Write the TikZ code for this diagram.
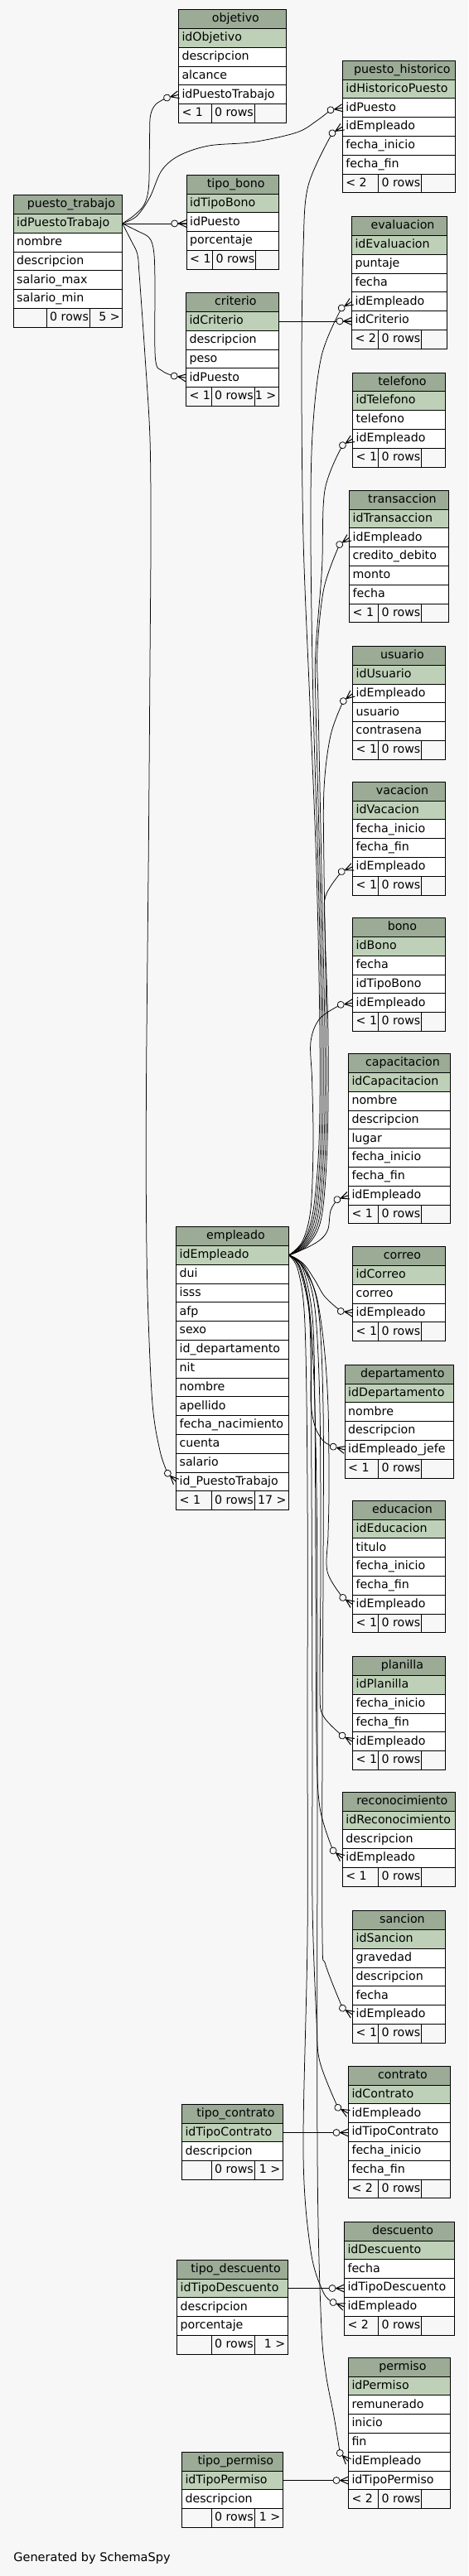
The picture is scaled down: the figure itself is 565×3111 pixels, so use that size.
\documentclass[tikz,border=0pt]{standalone}
\usepackage{fontspec}
\setmainfont{DejaVu Sans}
\usetikzlibrary{calc}
\definecolor{hdrc}{HTML}{9BAB96}
\definecolor{pkc}{HTML}{BED1B8}
\definecolor{bgc}{HTML}{F7F7F7}
\newcommand\tabfont{\fontsize{14.2}{16}\selectfont}
\tikzset{
  sscell/.style={rectangle, draw=black, line width=0.9pt, inner xsep=4pt, inner ysep=0pt, outer sep=0pt, minimum height=22.8pt, text height=10.5pt, text depth=3pt, align=left, anchor=north west, font=\tabfont},
  hdrcell/.style={sscell, fill=hdrc},
  pkcell/.style={sscell, fill=pkc},
  colcell/.style={sscell, fill=white},
  footcell/.style={sscell, fill=bgc},
  celltxt/.style={inner sep=0pt, outer sep=0pt, text height=10.5pt, text depth=3pt, font=\tabfont},
  tline/.style={draw=black, line width=0.9pt},
  fkline/.style={draw=black, line width=0.75pt},
}
\newcommand\dbtable[7]{%
  \pgfmathsetmacro\tw{#3-#2-8}%
  \xdef\curid{#1}\xdef\curxl{#2}\xdef\curxr{#3}%
  \node[hdrcell, text width=\tw pt] (#1) at (#2,#4) {};
  \node[celltxt, xshift=4pt] (#1-title) at (#1.center) {#5};
  \node[pkcell, text width=\tw pt] (#1-#6) at (#1.south west) {#6};
  \xdef\prevrow{#1-#6}%
  \foreach \c in {#7} {%
    \node[colcell, text width=\tw pt] (#1-\c) at (\prevrow.south west) {\c};
    \xdef\prevrow{#1-\c}%
  }%
}
\newcommand\dbfoot[3]{%
  \pgfmathsetmacro\tw{\curxr-\curxl-8}%
  \pgfmathsetmacro\dtwo{#1+52}%
  \pgfmathsetmacro\mx{#1+4}%
  \node[footcell, text width=\tw pt] (\curid-foot) at (\prevrow.south west) {};
  \draw[tline] (#1,0 |- \curid-foot.north) -- (#1,0 |- \curid-foot.south)
               (\dtwo,0 |- \curid-foot.north) -- (\dtwo,0 |- \curid-foot.south);
  \node[celltxt, anchor=west] (\curid-fl) at ([xshift=4pt]\curid-foot.west) {#2};
  \node[celltxt, anchor=west] (\curid-fm) at (\mx,0 |- \curid-foot.west) {0 rows};
  \node[celltxt, anchor=east] (\curid-fr) at ([xshift=-3pt]\curid-foot.east) {#3};
}
\newcommand\fkmark[2]{%
  \begin{scope}[shift={(#1)}, rotate={0-(#2)}]
    \draw[fkline, fill=bgc] (-14.5,0) circle[radius=4pt];
    \draw[fkline, line width=1pt] (-10,0) -- (0,4.5) (-10,0) -- (0,-4.5) (-10,0) -- (0,0);
  \end{scope}}
\newcommand\fkedge[5]{%
  \coordinate (#1e) at ($(#4)+({#5+180}:14.5)$);
  \draw[fkline] plot[smooth, tension=0.55] coordinates {(#2) #3 (#1e)};
  \fkmark{#4}{#5}}
\newcommand\fkstraight[3]{%
  \coordinate (#1e) at (#2 -| #3);
  \draw[fkline] (#2) -- (#1e);
  \fkmark{#1e}{0}}
\begin{document}
\catcode`\_=12
\begin{tikzpicture}[x=1pt, y=-1pt]
\fill[bgc] (0,0) rectangle (565,3111);
\useasboundingbox (0,0) rectangle (565,3111);

\dbtable{obj}{215.5}{345.2}{11.7}{objetivo}{idObjetivo}{descripcion,alcance,idPuestoTrabajo}
\dbfoot{255.1}{< 1}{}
\dbtable{ph}{413.3}{549.5}{73.3}{puesto_historico}{idHistoricoPuesto}{idPuesto,idEmpleado,fecha_inicio,fecha_fin}
\dbfoot{456.6}{< 2}{}
\dbtable{tb}{225.2}{336.2}{211.3}{tipo_bono}{idTipoBono}{idPuesto,porcentaje}
\dbfoot{256.6}{< 1}{}
\dbtable{pt}{16.2}{147.7}{235.7}{puesto_trabajo}{idPuestoTrabajo}{nombre,descripcion,salario_max,salario_min}
\dbfoot{56.2}{}{5 >}
\dbtable{cri}{224.5}{336.2}{353.7}{criterio}{idCriterio}{descripcion,peso,idPuesto}
\dbfoot{255.1}{< 1}{1 >}
\dbtable{eva}{424.5}{539.5}{261.7}{evaluacion}{idEvaluacion}{puntaje,fecha,idEmpleado,idCriterio}
\dbfoot{456.6}{< 2}{}
\dbtable{tel}{425.6}{537.3}{450}{telefono}{idTelefono}{telefono,idEmpleado}
\dbfoot{456.6}{< 1}{}
\dbtable{tra}{421.6}{541.3}{592.3}{transaccion}{idTransaccion}{idEmpleado,credito_debito,monto,fecha}
\dbfoot{456.6}{< 1}{}
\dbtable{usu}{425.6}{537.3}{780.5}{usuario}{idUsuario}{idEmpleado,usuario,contrasena}
\dbfoot{456.6}{< 1}{}
\dbtable{vac}{425.6}{537.3}{944.3}{vacacion}{idVacacion}{fecha_inicio,fecha_fin,idEmpleado}
\dbfoot{456.6}{< 1}{}
\dbtable{bon}{425.6}{537.3}{1108.7}{bono}{idBono}{fecha,idTipoBono,idEmpleado}
\dbfoot{456.6}{< 1}{}
\dbtable{cap}{420.5}{543.4}{1272.7}{capacitacion}{idCapacitacion}{nombre,descripcion,lugar,fecha_inicio,fecha_fin,idEmpleado}
\dbfoot{456.6}{< 1}{}
\dbtable{emp}{212.6}{348.5}{1481.7}{empleado}{idEmpleado}{dui,isss,afp,sexo,id_departamento,nit,nombre,apellido,fecha_nacimiento,cuenta,salario,id_PuestoTrabajo}
\dbfoot{255.1}{< 1}{17 >}
\dbtable{cor}{425.6}{537.3}{1505.7}{correo}{idCorreo}{correo,idEmpleado}
\dbfoot{456.6}{< 1}{}
\dbtable{dep}{416.2}{547.4}{1648.3}{departamento}{idDepartamento}{nombre,descripcion,idEmpleado_jefe}
\dbfoot{456.6}{< 1}{}
\dbtable{edu}{425.6}{537.3}{1812.3}{educacion}{idEducacion}{titulo,fecha_inicio,fecha_fin,idEmpleado}
\dbfoot{456.6}{< 1}{}
\dbtable{pla}{425.6}{537.3}{2000.7}{planilla}{idPlanilla}{fecha_inicio,fecha_fin,idEmpleado}
\dbfoot{456.6}{< 1}{}
\dbtable{rec}{413.3}{549.5}{2164.3}{reconocimiento}{idReconocimiento}{descripcion,idEmpleado}
\dbfoot{456.6}{< 1}{}
\dbtable{san}{425.6}{537.3}{2307.7}{sancion}{idSancion}{gravedad,descripcion,fecha,idEmpleado}
\dbfoot{456.6}{< 1}{}
\dbtable{con}{420.5}{543.4}{2495.3}{contrato}{idContrato}{idEmpleado,idTipoContrato,fecha_inicio,fecha_fin}
\dbfoot{456.6}{< 2}{}
\dbtable{tco}{219.5}{341.3}{2541.3}{tipo_contrato}{idTipoContrato}{descripcion}
\dbfoot{255.1}{}{1 >}
\dbtable{des}{415.5}{548.5}{2683.3}{descuento}{idDescuento}{fecha,idTipoDescuento,idEmpleado}
\dbfoot{456.6}{< 2}{}
\dbtable{tde}{213.7}{347.4}{2729.3}{tipo_descuento}{idTipoDescuento}{descripcion,porcentaje}
\dbfoot{255.1}{}{1 >}
\dbtable{per}{420.5}{543.4}{2847.3}{permiso}{idPermiso}{remunerado,inicio,fin,idEmpleado,idTipoPermiso}
\dbfoot{456.6}{< 2}{}
\dbtable{tpe}{219.5}{341.3}{2961.3}{tipo_permiso}{idTipoPermiso}{descripcion}
\dbfoot{255.1}{}{1 >}

% puesto_trabajo relations
\fkedge{ea}{pt-idPuestoTrabajo.east}{(162,260) (174,247) (179.5,225) (180.5,170) (181.5,140) (188,126)}{obj-idPuestoTrabajo.west}{-15}
\fkedge{eb}{pt-idPuestoTrabajo.east}{(165,261) (181,238) (195,206) (216,188) (252,176) (306,171.5) (358,160) (382,146)}{ph-idPuesto.west}{-10}
\fkstraight{ec}{pt-idPuestoTrabajo.east}{tb-idPuesto.west}
\fkedge{ed}{pt-idPuestoTrabajo.east}{(166,279) (180,287) (185.5,303) (187,340) (187.4,432) (196,448)}{cri-idPuesto.west}{9}
\fkedge{ee}{pt-idPuestoTrabajo.east}{(158,290) (165.8,306.7) (168,330) (175,430) (181,530) (182,650) (181,800) (179.5,1000) (178,1150) (176.6,1300) (176.3,1430) (178,1560) (183.8,1693) (193,1752)}{emp-id_PuestoTrabajo.west}{45}
\fkstraight{ef}{cri-idCriterio.east}{eva-idCriterio.west}

% empleado relations (upward)
\fkedge{ua}{emp-idEmpleado.east}{(366,1500) (378,1462) (385,1380) (386,1250) (382,1050) (374,850) (366,650) (364,450) (366,300) (372,224)}{ph-idEmpleado.west}{-32}
\fkedge{ub}{emp-idEmpleado.east}{(367,1500) (380,1463) (387,1380) (388,1250) (384,1050) (378,850) (375,650) (377,525) (388,430)}{eva-idEmpleado.west}{-32}
\fkedge{uc}{emp-idEmpleado.east}{(368,1501) (382,1464) (389,1380) (390,1250) (386,1050) (381,850) (381,785) (388.5,687) (392,592)}{tel-idEmpleado.west}{-33}
\fkedge{ud}{emp-idEmpleado.east}{(369,1502) (384,1466) (391,1380) (392,1250) (388,1050) (384,850) (383,785) (391,710)}{tra-idEmpleado.west}{-35}
\fkedge{ue}{emp-idEmpleado.east}{(370,1503) (386,1468) (393,1380) (394,1250) (391,1050) (391,953) (399,888)}{usu-idEmpleado.west}{-39}
\fkedge{uf}{emp-idEmpleado.east}{(371,1504) (388,1470) (395,1380) (396,1250) (392,1120) (393,1082)}{vac-idEmpleado.west}{-23}
\fkedge{ug}{emp-idEmpleado.east}{(365,1499) (375,1460) (378,1380) (376.6,1305) (375,1258) (386,1230)}{bon-idEmpleado.west}{-8}
\fkedge{uh}{emp-idEmpleado.east}{(372,1506) (388,1496) (396,1484) (399,1462)}{cap-idEmpleado.west}{-20}

% empleado relations (downward)
\fkedge{da}{emp-idEmpleado.east}{(366,1526) (380,1546) (392,1566)}{cor-idEmpleado.west}{8}
\fkedge{db}{emp-idEmpleado.east}{(362,1530) (372,1570) (376,1620) (375,1690) (380,1722) (390,1740)}{dep-idEmpleado_jefe.west}{15}
\fkedge{dc}{emp-idEmpleado.east}{(364,1528) (381,1562) (391,1625) (396,1700) (397,1800) (396,1853) (395,1898)}{edu-idEmpleado.west}{35}
\fkedge{dd}{emp-idEmpleado.east}{(366,1530) (380,1580) (386,1700) (387,1900) (386,2040) (390,2072)}{pla-idEmpleado.west}{30}
\fkedge{de}{emp-idEmpleado.east}{(365,1531) (377,1590) (380,1700) (381,1900) (382,2100) (386,2183)}{rec-idEmpleado.west}{39}
\fkedge{df}{emp-idEmpleado.east}{(367,1529) (384,1580) (390,1700) (390,1900) (389,2100) (389,2340) (393,2373)}{san-idEmpleado.west}{33}
\fkedge{dg}{emp-idEmpleado.east}{(363,1533) (374,1600) (376,1800) (377,2100) (377,2300) (382,2440) (386,2490)}{con-idEmpleado.west}{29}
\fkedge{dh}{emp-idEmpleado.east}{(360,1535) (368,1600) (371,1800) (371,2100) (371,2340) (366,2600) (375,2718) (390,2768)}{des-idEmpleado.west}{22}
\fkedge{di}{emp-idEmpleado.east}{(362,1534) (376,1610) (382,1800) (383,2100) (383,2600) (387.4,2800) (393,2865) (403,2918)}{per-idEmpleado.west}{45}

% type tables
\fkstraight{ta}{tco-idTipoContrato.east}{con-idTipoContrato.west}
\fkstraight{tb}{tde-idTipoDescuento.east}{des-idTipoDescuento.west}
\fkstraight{tc}{tpe-idTipoPermiso.east}{per-idTipoPermiso.west}

\node[anchor=base west, inner sep=0pt, font=\fontsize{14.5}{16}\selectfont] (gen) at (16.2,3093.5) {Generated by SchemaSpy};
\end{tikzpicture}
\end{document}
